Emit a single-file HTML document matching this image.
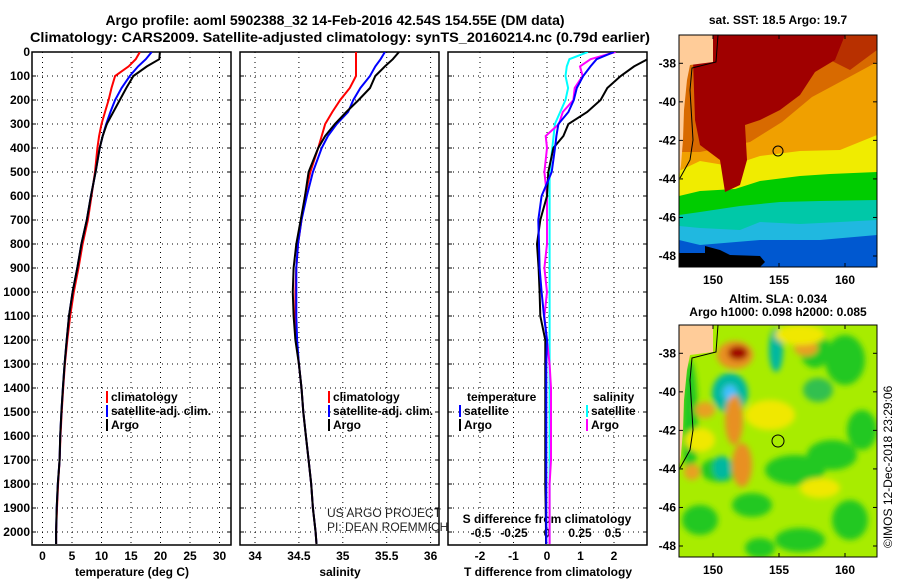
<!DOCTYPE html>
<html><head><meta charset="utf-8"><style>
html,body{margin:0;padding:0;background:#fff;}
svg{display:block;font-family:"Liberation Sans",sans-serif;}
.b{font-weight:bold;font-size:12px;}
.t{font-weight:bold;font-size:14px;}
</style></head><body>
<svg id="c" width="900" height="580" viewBox="0 0 900 580">
<defs>
<clipPath id="cp1"><rect x="32" y="52" width="199" height="493"/></clipPath>
<clipPath id="cp2"><rect x="240" y="52" width="199" height="493"/></clipPath>
<clipPath id="cp3"><rect x="448" y="52" width="199" height="493"/></clipPath>
<clipPath id="cm1"><rect x="679" y="35" width="198" height="232"/></clipPath>
<clipPath id="cm2"><rect x="679" y="325" width="198" height="232"/></clipPath>
<filter id="bl" x="-50%" y="-50%" width="200%" height="200%"><feGaussianBlur stdDeviation="3"/></filter>
</defs>
<text class="t" x="335" y="25" text-anchor="middle">Argo profile: aoml 5902388_32 14-Feb-2016 42.54S 154.55E (DM data)</text>
<text class="t" x="340" y="42" text-anchor="middle" textLength="620" lengthAdjust="spacingAndGlyphs">Climatology: CARS2009. Satellite-adjusted climatology: synTS_20160214.nc (0.79d earlier)</text>
<g id="panels"></g>

<!-- top map -->
<g>
<text class="b" x="778" y="24" text-anchor="middle">sat. SST: 18.5 Argo: 19.7</text>
<g clip-path="url(#cm1)">
<rect x="679" y="35" width="198" height="232" fill="#0058d0"/>
<polygon fill="#20b8e0" points="679,225 720,222 760,218 800,215 877,212 877,235 820,240 760,240 700,245 679,240"/>
<polygon fill="#00c8a8" points="679,213 700,210 740,203 780,198 820,198 877,196 877,220 840,222 800,224 760,222 740,230 700,228 679,226"/>
<polygon fill="#00cc00" points="679,193 700,188 735,186 760,178 800,173 830,171 877,168 877,200 820,201 780,202 740,206 700,212 679,215"/>
<polygon fill="#f0ec00" points="679,168 700,158 730,163 760,153 800,148 840,147 877,130 877,172 830,174 800,176 760,181 735,189 700,191 679,196"/>
<polygon fill="#f0a000" points="679,150 700,150 750,140 780,120 810,95 840,80 877,60 877,135 840,150 800,151 760,156 730,166 700,161 679,171"/>
<polygon fill="#d86a00" points="679,60 877,35 877,62 840,82 812,97 782,122 750,142 700,152 679,152"/>
<polygon fill="#b83000" points="820,35 877,35 877,50 850,70 830,60"/>
<polygon fill="#a00000" points="700,35 845,35 835,60 815,72 800,95 780,110 760,120 745,125 747,160 740,185 725,192 720,160 700,145 695,120 693,60"/>
<polygon fill="#000" points="679,253 705,253 705,246 720,250 730,255 760,256 765,262 760,267 679,267"/>
<polygon fill="#ffcc99" points="679,35 713,35 713,62 690,65 687,80 684,110 683,140 681,165 679,178"/>
<polyline fill="none" stroke="#000" stroke-width="1" points="718,35 716,62 692,68 690,90 693,140 690,160 680,178"/>
</g>
<circle cx="778" cy="151" r="5" fill="none" stroke="#000"/>
<rect x="679" y="35" width="198" height="232" fill="none" stroke="#000"/>
<g id="m1ticks"></g>
</g>

<!-- bottom map -->
<g>
<text class="b" x="778" y="303" text-anchor="middle">Altim. SLA: 0.034</text>
<text class="b" x="778" y="316" text-anchor="middle">Argo h1000: 0.098 h2000: 0.085</text>
<g clip-path="url(#cm2)">
<rect x="679" y="325" width="198" height="232" fill="#a8ec00"/>
<g filter="url(#bl)">
<ellipse cx="700" cy="520" rx="18" ry="15" fill="#20c820"/>
<ellipse cx="752" cy="505" rx="20" ry="12" fill="#20c820"/>
<ellipse cx="795" cy="470" rx="30" ry="15" fill="#20c820"/>
<ellipse cx="845" cy="360" rx="20" ry="25" fill="#20c820"/>
<ellipse cx="832" cy="455" rx="25" ry="15" fill="#20c820"/>
<ellipse cx="862" cy="430" rx="15" ry="20" fill="#20c820"/>
<ellipse cx="720" cy="470" rx="20" ry="12" fill="#20c820"/>
<ellipse cx="800" cy="540" rx="25" ry="12" fill="#20c820"/>
<ellipse cx="760" cy="548" rx="15" ry="10" fill="#20c820"/>
<ellipse cx="850" cy="520" rx="18" ry="20" fill="#20c820"/>
<ellipse cx="690" cy="420" rx="8" ry="60" fill="#20c820"/>
<ellipse cx="815" cy="350" rx="15" ry="18" fill="#20c820"/>
<ellipse cx="730" cy="393" rx="18" ry="20" fill="#00b8a0"/>
<ellipse cx="722" cy="468" rx="9" ry="12" fill="#00b8a0"/>
<ellipse cx="776" cy="350" rx="7" ry="22" fill="#00b8a0"/>
<ellipse cx="818" cy="390" rx="15" ry="12" fill="#30c050"/>
<ellipse cx="730" cy="393" rx="7" ry="8" fill="#40c0ff"/>
<ellipse cx="735" cy="355" rx="18" ry="14" fill="#e89020"/>
<ellipse cx="734" cy="420" rx="9" ry="25" fill="#e89020"/>
<ellipse cx="742" cy="465" rx="10" ry="22" fill="#e89020"/>
<ellipse cx="705" cy="410" rx="10" ry="8" fill="#e8a020"/>
<ellipse cx="806" cy="348" rx="12" ry="8" fill="#e8a020"/>
<ellipse cx="692" cy="472" rx="8" ry="8" fill="#e8a020"/>
<ellipse cx="738" cy="353" rx="10" ry="7" fill="#a00000"/>
<ellipse cx="770" cy="415" rx="25" ry="15" fill="#f0e800"/>
<ellipse cx="700" cy="440" rx="15" ry="12" fill="#f0e800"/>
<ellipse cx="820" cy="488" rx="20" ry="10" fill="#f0e800"/>
<ellipse cx="800" cy="335" rx="25" ry="10" fill="#f0e800"/>
</g>
<polygon fill="#ffcc99" points="679,325 713,325 713,352 690,355 687,370 684,400 683,430 681,455 679,468"/>
<polyline fill="none" stroke="#000" stroke-width="1" points="718,325 716,352 692,358 690,380 693,430 690,450 680,468"/>
</g>
<circle cx="778" cy="441" r="6" fill="none" stroke="#000"/>
<rect x="679" y="325" width="198" height="232" fill="none" stroke="#000"/>
<g id="m2ticks"></g>
<text x="892" y="548" font-size="12" transform="rotate(-90 892 548)">©IMOS 12-Dec-2018 23:29:06</text>
</g>
</svg>
<script>
// ---- data ----
const depths = [0,30,60,100,150,200,250,300,350,400,500,600,700,800,900,1000,1100,1200,1300,1400,1500,1600,1700,1800,1900,2000,2050];
const argoT = [19.9,19.8,17.7,15.4,14.2,13.1,12.0,10.9,10.2,9.7,9.0,8.2,7.5,6.6,5.9,5.1,4.5,4.1,3.75,3.45,3.2,3.0,2.9,2.6,2.4,2.3,2.3];
const climT = [16.5,15.8,14.6,12.3,11.7,11.2,10.6,10.0,9.6,9.3,8.9,8.3,7.7,6.8,6.1,5.3,4.7,4.2,3.8,3.5,3.25,3.05,2.9,2.65,2.45,2.3,2.3];
const satT = [18.5,17.5,16.2,14.8,13.4,12.3,11.5,10.8,10.2,9.7,9.0,8.2,7.5,6.6,5.9,5.1,4.5,4.1,3.75,3.45,3.2,3.0,2.9,2.6,2.4,2.3,2.3];
const argoS = [35.64,35.57,35.48,35.37,35.31,35.18,35.04,34.91,34.80,34.72,34.61,34.57,34.52,34.47,34.44,34.43,34.44,34.46,34.50,34.53,34.55,34.58,34.61,34.64,34.66,34.69,34.70];
const climS = [35.15,35.15,35.15,35.15,35.08,34.97,34.88,34.80,34.76,34.72,34.63,34.57,34.53,34.49,34.47,34.46,34.46,34.47,34.50,34.53,34.55,34.58,34.61,34.64,34.66,34.69,34.70];
const satS = [35.48,35.43,35.37,35.31,35.20,35.12,35.06,34.93,34.83,34.76,34.66,34.59,34.53,34.49,34.47,34.47,34.47,34.48,34.50,34.53,34.55,34.58,34.61,34.64,34.66,34.69,34.70];
const argoDT = [3.0,3.0,2.6,2.2,1.8,1.6,1.2,0.64,0.49,0.19,0.04,0,-0.2,-0.3,-0.25,-0.22,-0.2,-0.05,-0.05,-0.05,-0.05,-0.05,-0.05,-0.05,-0.04,-0.03,-0.03];
const satDT = [2.0,1.48,1.3,1.08,0.89,0.8,0.64,0.34,0.28,0.24,0.14,-0.16,-0.26,-0.24,-0.22,-0.16,-0.09,0,-0.02,-0.02,-0.02,-0.02,-0.02,-0.02,-0.02,-0.02,-0.02];
const argoDS = [0.52,0.33,0.25,0.27,0.21,0.2,0.12,0.09,-0.01,0,-0.02,0,0,0,-0.02,0,-0.02,0,0.02,0.03,0.03,0.03,0.03,0.02,0.02,0.02,0.02];
const satDS = [0.31,0.17,0.15,0.14,0.16,0.14,0.1,0.06,0.05,0.04,0.02,0.02,0.02,0.02,0.02,0.02,0.02,0.02,0.02,0.02,0.02,0.02,0.02,0.02,0.02,0.02,0.02];
const depthTicks = [0,100,200,300,400,500,600,700,800,900,1000,1100,1200,1300,1400,1500,1600,1700,1800,1900,2000];
const tempTicks = [0,5,10,15,20,25,30];
const salTicks = [34,34.5,35,35.5,36];
const dtTicks = [-2,-1,0,1,2];
const dsTicks = [-0.5,-0.25,0,0.25,0.5];
const lonTicks = [150,155,160];
const latTicks = [-38,-40,-42,-44,-46,-48];

// ---- scales ----
const NS='http://www.w3.org/2000/svg';
const yD = d => 52 + d*0.24;
const xT = t => 42.5 + t*5.9;
const xS = s => 255 + (s-34)*87.8;
const xDT = v => 547 + v*33.5;
const xDS = v => 547 + v*132;
const xLon = l => 713 + (l-150)*13.2;
const yLat = (l,off) => 63.3 + off + (-38-l)*19.27;

function mk(tag, attrs, parent){const e=document.createElementNS(NS,tag);for(const k in attrs)e.setAttribute(k,attrs[k]);parent.appendChild(e);return e;}
const root=document.getElementById('panels');

const panels=[{x:32,ticks:tempTicks,sx:xT,name:'temperature-panel',title:'temperature (deg C)'},
 {x:240,ticks:salTicks,sx:xS,name:'salinity-panel',title:'salinity'},
 {x:448,ticks:dtTicks,sx:xDT,name:'difference-panel',title:'T difference from climatology'}];

panels.forEach((p)=>{
  const g=mk('g',{},root);
  
  
  depthTicks.forEach(d=>{
    const l=mk('line',{x1:p.x,x2:p.x+199,y1:yD(d),y2:yD(d),stroke:'#000','stroke-width':1,'stroke-dasharray':'1,4'},g);
    
    
    mk('line',{x1:p.x,x2:p.x+4,y1:yD(d),y2:yD(d),stroke:'#000'},g);
    mk('line',{x1:p.x+195,x2:p.x+199,y1:yD(d),y2:yD(d),stroke:'#000'},g);
  });
  p.ticks.forEach(t=>{
    const x=p.sx(t);
    const l=mk('line',{x1:x,x2:x,y1:52,y2:545,stroke:'#000','stroke-width':1,'stroke-dasharray':'1,4'},g);
    
    
    const tx=mk('text',{x:x,y:560,'text-anchor':'middle','class':'b'},g);
    tx.textContent=String(t);
    
    
  });
  mk('rect',{x:p.x,y:52,width:199,height:493,fill:'none',stroke:'#000','stroke-width':1.5},g);
  const at=mk('text',{x:p.x+100,y:576,'text-anchor':'middle','class':'b'},g);
  at.textContent=p.title;
  
  
});
depthTicks.forEach(d=>{
  const t=mk('text',{x:30,y:yD(d)+4,'text-anchor':'end','class':'b'},root);
  t.textContent=String(d);
  
  
});
dsTicks.forEach(v=>{
  const t=mk('text',{x:xDS(v),y:537,'text-anchor':'middle','class':'b'},root);
  t.textContent=String(v);
  
  
});
{const t=mk('text',{x:547,y:523,'text-anchor':'middle','class':'b'},root);
t.textContent='S difference from climatology';

}

function line(vals, sx, clip, color, name){
  const pts=depths.map((d,i)=>sx(vals[i]).toFixed(1)+','+yD(d).toFixed(1)).join(' ');
  const pl=mk('polyline',{points:pts,fill:'none',stroke:color,'stroke-width':2,'clip-path':'url(#'+clip+')'},root);
  
  
}
line(climT,xT,'cp1','#ff0000','temp-climatology-line');
line(satT,xT,'cp1','#0000ff','temp-satellite-line');
line(argoT,xT,'cp1','#000','temp-argo-line');
line(climS,xS,'cp2','#ff0000','sal-climatology-line');
line(satS,xS,'cp2','#0000ff','sal-satellite-line');
line(argoS,xS,'cp2','#000','sal-argo-line');
line(satDS,xDS,'cp3','#00ffff','sdiff-satellite-line');
line(argoDS,xDS,'cp3','#ff00ff','sdiff-argo-line');
line(argoDT,xDT,'cp3','#000','tdiff-argo-line');
line(satDT,xDT,'cp3','#0000ff','tdiff-satellite-line');

function legend(x,y,color,label){
  const g=mk('g',{},root);
  
  
  mk('rect',{x:x,y:y-10,width:2,height:12,fill:color},g);
  const t=mk('text',{x:x+5,y:y,'class':'b'},g);
  t.textContent=label;
}
legend(106,401,'#ff0000','climatology');
legend(106,415,'#0000ff','satellite-adj. clim.');
legend(106,429,'#000','Argo');
legend(328,401,'#ff0000','climatology');
legend(328,415,'#0000ff','satellite-adj. clim.');
legend(328,429,'#000','Argo');
{const t=mk('text',{x:467,y:401,'class':'b'},root);t.textContent='temperature';

}
{const t=mk('text',{x:593,y:401,'class':'b'},root);t.textContent='salinity';

}
legend(459,415,'#0000ff','satellite');
legend(459,429,'#000','Argo');
legend(586,415,'#00ffff','satellite');
legend(586,429,'#ff00ff','Argo');
{const t=mk('text',{x:327,y:517,'font-size':'12',fill:'#222'},root);t.textContent='US ARGO PROJECT';


const t2=mk('text',{x:327,y:531,'font-size':'12',fill:'#222'},root);t2.textContent='PI: DEAN ROEMMICH';

}

[[document.getElementById('m1ticks'),0],[document.getElementById('m2ticks'),290]].forEach(([g,off])=>{
  lonTicks.forEach(l=>{
    const x=xLon(l);
    mk('line',{x1:x,x2:x,y1:35+off,y2:39+off,stroke:'#000'},g);
    mk('line',{x1:x,x2:x,y1:263+off,y2:267+off,stroke:'#000'},g);
    const t=mk('text',{x:x,y:284+off,'text-anchor':'middle','class':'b'},g);
    t.textContent=String(l);
    
    
  });
  latTicks.forEach(l=>{
    const y=yLat(l,off);
    mk('line',{x1:679,x2:683,y1:y,y2:y,stroke:'#000'},g);
    mk('line',{x1:873,x2:877,y1:y,y2:y,stroke:'#000'},g);
    const t=mk('text',{x:676,y:y+4,'text-anchor':'end','class':'b'},g);
    t.textContent=String(l);
    
    
  });
});
</script>
</body></html>
